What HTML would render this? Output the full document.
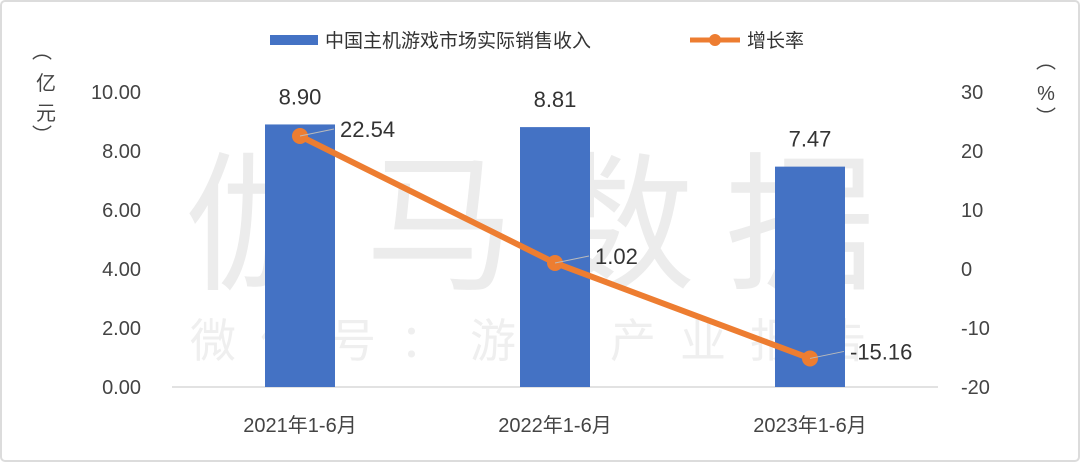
<!DOCTYPE html>
<html><head><meta charset="utf-8"><style>
body{margin:0;background:#fff;}
svg{display:block;font-family:"Liberation Sans","Noto Sans CJK SC",sans-serif;}
</style></head><body>
<svg id="chart" width="1080" height="462">
<rect x="1" y="1" width="1078" height="460" rx="4" fill="#fff" stroke="#dcdcdc" stroke-width="2"/>
<text x="545" y="278" font-size="150" fill="#ececec" text-anchor="middle" letter-spacing="30">伽马数据</text>
<text x="540" y="357" font-size="46" fill="#efefef" text-anchor="middle" letter-spacing="24">微信号：游戏产业报告</text>
<g id="legend">
<rect x="270" y="35" width="48" height="10" fill="#4472c4"/>
<text x="325" y="47" font-size="19" fill="#333">中国主机游戏市场实际销售收入</text>
<line x1="690" y1="40" x2="740" y2="40" stroke="#ed7d31" stroke-width="5"/>
<circle cx="715" cy="40" r="6" fill="#ed7d31"/>
<text x="747" y="47" font-size="19" fill="#333">增长率</text>
</g>
<g font-size="20" fill="#444">
<text x="42" y="58" text-anchor="middle">︵</text>
<text x="46" y="90" text-anchor="middle">亿</text>
<text x="46" y="120" text-anchor="middle">元</text>
<text x="42" y="142" text-anchor="middle">︶</text>
</g>
<g font-size="20" fill="#444">
<text x="1046" y="68" text-anchor="middle">︵</text>
<text x="1046" y="100" text-anchor="middle">%</text>
<text x="1046" y="124" text-anchor="middle">︶</text>
</g>
<g id="plot"></g>
</svg>
<script>
const categories=["2021年1-6月","2022年1-6月","2023年1-6月"];
const revenue=[8.90,8.81,7.47];
const growth=[22.54,1.02,-15.16];
const leftTicks=[0,2,4,6,8,10];
const rightTicks=[-20,-10,0,10,20,30];
const ns="http://www.w3.org/2000/svg";
const g=document.getElementById('plot');
const top0=92,bot=387;
const yL=v=>bot-(v-0)/10*(bot-top0);
const yR=v=>bot-(v+20)/50*(bot-top0);
const xC=i=>300+i*255;
function mk(t,a,txt){const e=document.createElementNS(ns,t);for(const k in a)e.setAttribute(k,a[k]);if(txt!==undefined)e.textContent=txt;g.appendChild(e);return e;}
let e=mk('line',{x1:172,x2:938,y1:bot,y2:bot,stroke:'#d9d9d9','stroke-width':1.5});


leftTicks.forEach(v=>{const t=mk('text',{x:141,y:yL(v)+7,'font-size':20,fill:'#444','text-anchor':'end'},v.toFixed(2));

});
rightTicks.forEach(v=>{const t=mk('text',{x:961,y:yR(v)+7,'font-size':20,fill:'#444'},String(v));

});
categories.forEach((c,i)=>{const t=mk('text',{x:xC(i),y:432,'font-size':20,fill:'#444','text-anchor':'middle'},c);

});
revenue.forEach((v,i)=>{const r=mk('rect',{x:xC(i)-35,y:yL(v),width:70,height:bot-yL(v),fill:'#4472c4'});


const t=mk('text',{x:xC(i),y:yL(v)-20,'font-size':22,fill:'#333','text-anchor':'middle'},v.toFixed(2));

});
const pts=growth.map((v,i)=>xC(i)+','+yR(v)).join(' ');
e=mk('polyline',{points:pts,fill:'none',stroke:'#ed7d31','stroke-width':6,'stroke-linejoin':'round'});


growth.forEach((v,i)=>{const c=mk('circle',{cx:xC(i),cy:yR(v),r:8,fill:'#ed7d31'});


const l=mk('line',{x1:xC(i),y1:yR(v),x2:xC(i)+34,y2:yR(v)-7,stroke:'#bbb','stroke-width':1});


const t=mk('text',{x:xC(i)+40,y:yR(v)+1,'font-size':22,fill:'#333'},v.toFixed(2));

});
</script>
</body></html>
